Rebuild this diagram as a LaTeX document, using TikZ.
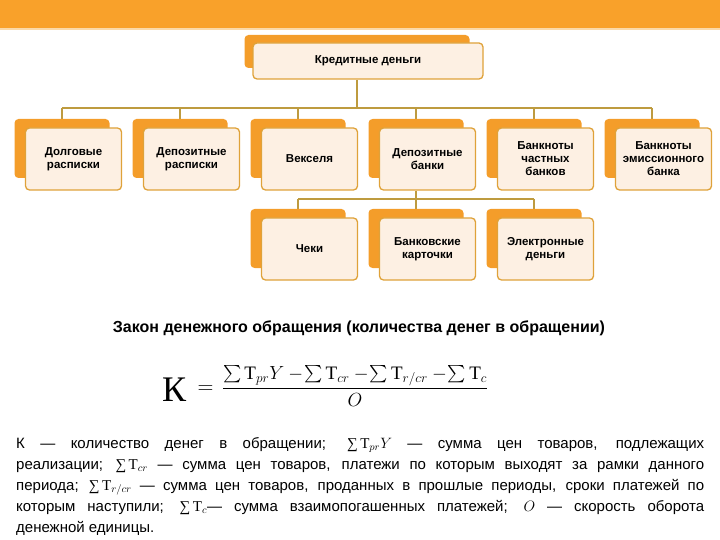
\RequirePackage{fix-cm}
\documentclass[tikz,border=0pt]{standalone}
\usepackage{amsmath}
\usepackage[no-math]{fontspec}
\setmainfont{Liberation Sans}
\newfontfamily\serifcyr{Liberation Serif}
\definecolor{banner}{HTML}{F9A12A}
\definecolor{bannerlight}{HTML}{FBD9A8}
\definecolor{backor}{HTML}{F49D2A}
\definecolor{frontfill}{HTML}{FDF0E3}
\definecolor{frontedge}{HTML}{DFA23A}
\definecolor{connc}{HTML}{BE9B3F}
\newcommand\sumT{{\serifcyr ∑\,Т}}
\pgfdeclarelayer{bg}
\pgfsetlayers{bg,main}
\begin{document}
\begin{tikzpicture}[x=1pt,y=-1pt,
  conn/.style={draw=connc, line width=1.8pt},
  backbox/.style={fill=backor, rounded corners=4pt, minimum width=95pt, minimum height=59pt, inner sep=0pt},
  frontbox/.style={fill=frontfill, draw=frontedge, line width=1.3pt, rounded corners=4pt,
    minimum width=96pt, minimum height=62pt, inner sep=1pt, align=center,
    font=\bfseries\fontsize{11.5}{13}\selectfont}]
\useasboundingbox (0,0) rectangle (720,540);
\fill[banner] (0,0) rectangle (720,28);
\fill[bannerlight] (0,28) rectangle (720,30);

% top node
\node[backbox, minimum width=225pt, minimum height=33pt] (topb) at (357,51.5) {};
\node[frontbox, minimum width=230pt, minimum height=36pt] (top) at (368,61) {Кредитные деньги};

% row 1
\node[backbox] (c1b) at (62,148.5) {};
\node[frontbox] (c1) at (73.5,159) {Долговые\\расписки};
\node[backbox] (c2b) at (180,148.5) {};
\node[frontbox] (c2) at (191.5,159) {Депозитные\\расписки};
\node[backbox] (c3b) at (298,148.5) {};
\node[frontbox] (c3) at (309.5,159) {Векселя};
\node[backbox] (c4b) at (416,148.5) {};
\node[frontbox] (c4) at (427.5,159) {Депозитные\\банки};
\node[backbox] (c5b) at (534,148.5) {};
\node[frontbox] (c5) at (545.5,159) {Банкноты\\частных\\банков};
\node[backbox] (c6b) at (652,148.5) {};
\node[frontbox] (c6) at (663.5,159) {Банкноты\\эмиссионного\\банка};

% row 2
\node[backbox] (c7b) at (298,238.5) {};
\node[frontbox] (c7) at (309.5,249) {Чеки};
\node[backbox] (c8b) at (416,238.5) {};
\node[frontbox] (c8) at (427.5,249) {Банковские\\карточки};
\node[backbox] (c9b) at (534,238.5) {};
\node[frontbox] (c9) at (545.5,249) {Электронные\\деньги};

\coordinate (bus1) at (0,108);
\coordinate (bus2) at (0,199);
\begin{pgfonlayer}{bg}
\draw[conn] (topb.center |- top.south) -- (topb.center |- bus1);
\draw[conn] (c1b.center |- bus1) -- (c6b.center |- bus1);
\foreach \i in {1,...,6} {\draw[conn] (c\i b.center |- bus1) -- (c\i b.north);}
\draw[conn] (c4b.center |- c4.south) -- (c8b.north);
\draw[conn] (c7b.center |- bus2) -- (c9b.center |- bus2);
\draw[conn] (c7b.center |- bus2) -- (c7b.north);
\draw[conn] (c9b.center |- bus2) -- (c9b.north);
\end{pgfonlayer}

% law title
\node[font=\bfseries\fontsize{16}{19}\selectfont] (title) at (359,328)
  {Закон денежного обращения (количества денег в обращении)};

% formula
\node[anchor=west, inner sep=0pt] (kk) at (162,389.5)
  {\fontsize{36}{40}\selectfont\serifcyr К};
\node[inner sep=0pt] (eq) at (205.5,390)
  {\fontsize{22}{24}\selectfont $=$};
\node[inner sep=0pt] (frac) at (355,386)
  {\fontsize{19}{22}\selectfont $\displaystyle\frac{\sum \mbox{\serifcyr Т}_{pr}Y \mathbin{-}\!\sum \mbox{\serifcyr Т}_{cr} \mathbin{-}\!\sum \mbox{\serifcyr Т}_{r/cr} \mathbin{-}\!\sum \mbox{\serifcyr Т}_{c}}{O}$};

% explanation
\node[anchor=north west, text width=688pt, align=justify, inner sep=0pt,
  font=\fontsize{15}{21}\selectfont] (body) at (16,437)
  {\hyphenpenalty=10000
  К — количество денег в обращении; \sumT$_{pr}Y$ — сумма цен товаров, подлежащих\linebreak
  реализации; \sumT$_{cr}$ — сумма цен товаров, платежи по которым выходят за рамки данного\linebreak
  периода; \sumT$_{r/cr}$ — сумма цен товаров, проданных в прошлые периоды, сроки платежей по\linebreak
  которым наступили; \sumT$_{c}$— сумма взаимопогашенных платежей; $O$ — скорость оборота\linebreak
  денежной единицы.};
\end{tikzpicture}
\end{document}
